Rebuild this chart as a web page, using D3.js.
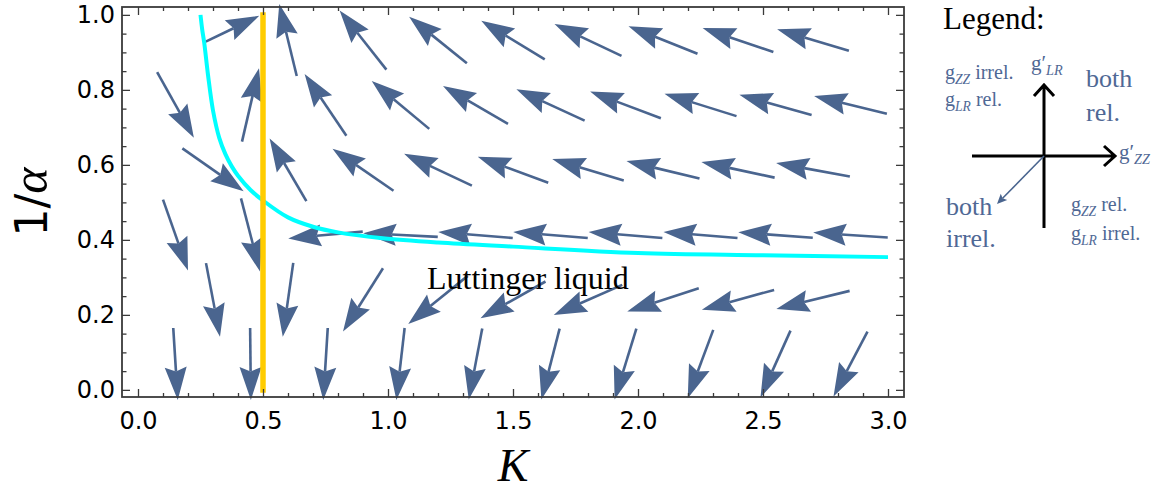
<!DOCTYPE html>
<html lang="en">

<head>
    <meta charset="UTF-8">
    <title>RG flow K - 1/alpha</title>
    <script src="https://d3js.org/d3.v7.min.js"></script>
    <style>
        body { margin: 0; background: #fff; }
        text { font-family: "Liberation Serif", serif; }
        .tick text { font-family: "DejaVu Sans", sans-serif; font-size: 24px; fill: #000; }
        .tick line { stroke: #3a3a3a; stroke-width: 1.3; }
    </style>
</head>

<body>
    <div id="chart"></div>

    <script>
        const width = 1157;
        const height = 490;

        // axis ticks
        const xTicks = [0, 0.5, 1, 1.5, 2, 2.5, 3];
        const xTickLabels = ["0.0", "0.5", "1.0", "1.5", "2.0", "2.5", "3.0"];
        const yTicks = [0, 0.2, 0.4, 0.6, 0.8, 1.0];
        const yTickLabels = ["0.0", "0.2", "0.4", "0.6", "0.8", "1.0"];

        // flow arrows: centre (K, 1/alpha) and vector (dK, dA)
        const arrowK = [
            0.378, 0.6, 0.9, 1.2, 1.5, 1.8, 2.1, 2.4, 2.7,
            0.15, 0.45, 0.75, 1.05, 1.35, 1.65, 1.95, 2.25, 2.55, 2.85,
            0.3, 0.6, 0.9, 1.2, 1.5, 1.8, 2.1, 2.4, 2.7,
            0.15, 0.45, 0.75, 1.05, 1.35, 1.65, 1.95, 2.25, 2.55, 2.85,
            0.3, 0.6, 0.9, 1.2, 1.5, 1.8, 2.1, 2.4, 2.7,
            0.15, 0.45, 0.75, 1.05, 1.35, 1.65, 1.95, 2.25, 2.55, 2.85
        ];
        const arrowA = [
            0.963, 0.933, 0.933, 0.933, 0.933, 0.933, 0.933, 0.933, 0.933,
            0.76, 0.76, 0.76, 0.76, 0.76, 0.76, 0.76, 0.76, 0.76, 0.76,
            0.587, 0.587, 0.587, 0.587, 0.587, 0.587, 0.587, 0.587, 0.587,
            0.413, 0.413, 0.413, 0.413, 0.413, 0.413, 0.413, 0.413, 0.413, 0.413,
            0.24, 0.24, 0.24, 0.24, 0.24, 0.24, 0.24, 0.24, 0.24,
            0.069, 0.069, 0.069, 0.069, 0.069, 0.069, 0.069, 0.069, 0.069, 0.069
        ];
        const arrowDK = [
            0.214, -0.070, -0.187, -0.231, -0.254, -0.268, -0.276, -0.283, -0.287,
            0.147, 0.068, -0.167, -0.230, -0.260, -0.273, -0.283, -0.288, -0.289, -0.291,
            0.245, -0.147, -0.244, -0.271, -0.282, -0.286, -0.292, -0.293, -0.295,
            0.100, 0.076, -0.298, -0.298, -0.298, -0.298, -0.295, -0.296, -0.298, -0.298,
            0.056, -0.042, -0.160, -0.238, -0.260, -0.274, -0.286, -0.289, -0.293,
            0.018, 0.003, -0.018, -0.033, -0.054, -0.073, -0.087, -0.102, -0.120, -0.136
        ];
        const arrowDA = [
            0.069, 0.192, 0.158, 0.124, 0.103, 0.085, 0.073, 0.064, 0.057,
            -0.175, 0.196, 0.165, 0.128, 0.101, 0.084, 0.071, 0.060, 0.054, 0.047,
            -0.114, 0.167, 0.112, 0.085, 0.069, 0.057, 0.047, 0.042, 0.036,
            -0.189, -0.195, -0.018, 0.010, 0.016, 0.016, 0.016, 0.016, 0.015, 0.013,
            -0.196, -0.197, -0.169, -0.128, -0.098, -0.080, -0.062, -0.053, -0.048,
            -0.192, -0.192, -0.192, -0.192, -0.189, -0.189, -0.189, -0.182, -0.178, -0.173
        ];

        // cyan separatrix
        const curveK = [0.25, 0.257, 0.265, 0.28, 0.30, 0.325, 0.35, 0.375, 0.40, 0.45,
            0.50, 0.60, 0.70, 0.80, 0.97, 1.20, 1.50, 2.00, 2.50, 3.00];
        const curveA = [1.00, 0.96, 0.925, 0.84, 0.745, 0.672, 0.628, 0.596, 0.571, 0.533,
            0.505, 0.460, 0.435, 0.420, 0.405, 0.393, 0.382, 0.365, 0.359, 0.354];

        // vertical line K = 1/2
        const fixedK = 0.5;
        const fixedA = [0, 1];

        const arrowColor = "#4a658f";

        const x = d3.scaleLinear().domain([-0.064, 3.064]).range([122, 904]);
        const y = d3.scaleLinear().domain([-0.019, 1.021]).range([397, 7]);

        const svg = d3.select("#chart")
            .append("svg")
            .attr("width", width)
            .attr("height", height)
            .style("display", "block");

        // Arrows
        const headLen = 33, headHalf = 11, notch = 28.5;
        const arrows = arrowK.map((k, i) => {
            const x0 = x(k - arrowDK[i] / 2), y0 = y(arrowA[i] - arrowDA[i] / 2);
            const x1 = x(k + arrowDK[i] / 2), y1 = y(arrowA[i] + arrowDA[i] / 2);
            const len = Math.hypot(x1 - x0, y1 - y0);
            const ux = (x1 - x0) / len, uy = (y1 - y0) / len;
            const nx = -uy, ny = ux;
            return {
                x0, y0,
                sx: x1 - ux * notch, sy: y1 - uy * notch,
                head: [
                    [x1, y1],
                    [x1 - ux * headLen + nx * headHalf, y1 - uy * headLen + ny * headHalf],
                    [x1 - ux * notch, y1 - uy * notch],
                    [x1 - ux * headLen - nx * headHalf, y1 - uy * headLen - ny * headHalf]
                ]
            };
        });

        const arrowG = svg.append("g");
        arrowG.selectAll("line")
            .data(arrows)
            .join("line")
            .attr("x1", d => d.x0).attr("y1", d => d.y0)
            .attr("x2", d => d.sx).attr("y2", d => d.sy)
            .attr("stroke", arrowColor)
            .attr("stroke-width", 2.6);
        arrowG.selectAll("path")
            .data(arrows)
            .join("path")
            .attr("d", d => "M" + d.head.join("L") + "Z")
            .attr("fill", arrowColor);

        // Cyan curve
        svg.append("path")
            .datum(curveK.map((k, i) => [k, curveA[i]]))
            .attr("fill", "none")
            .attr("stroke", "#00ffff")
            .attr("stroke-width", 4)
            .attr("d", d3.line().x(d => x(d[0])).y(d => y(d[1])).curve(d3.curveCatmullRom.alpha(0.5)));

        // K = 1/2 line
        svg.append("line")
            .attr("x1", x(fixedK)).attr("x2", x(fixedK))
            .attr("y1", y(fixedA[0])).attr("y2", y(fixedA[1]))
            .attr("stroke", "#ffcc00")
            .attr("stroke-width", 5.5)
            .attr("stroke-linecap", "square");

        svg.append("text")
            .attr("x", x(1.156))
            .attr("y", y(0.269))
            .attr("font-size", 32)
            .attr("fill", "#000")
            .text("Luttinger liquid");

        // Frame with inward ticks on all sides
        const [plotLeft, plotRight] = x.range();
        const [plotBottom, plotTop] = y.range();
        const xMinor = d3.range(0, 3.001, 0.1).filter(v => Math.abs(v * 2 - Math.round(v * 2)) > 1e-6);
        const yMinor = d3.range(0, 1.001, 0.05).filter(v => Math.abs(v * 5 - Math.round(v * 5)) > 1e-6);

        function addAxis(axis, tx, ty) {
            svg.append("g")
                .attr("transform", `translate(${tx},${ty})`)
                .call(axis)
                .call(g => g.select(".domain").remove());
        }

        addAxis(d3.axisBottom(x).tickValues(xTicks).tickSize(-8).tickPadding(15)
            .tickFormat((d, i) => xTickLabels[i]), 0, plotBottom);
        addAxis(d3.axisBottom(x).tickValues(xMinor).tickSize(-4).tickFormat(""), 0, plotBottom);
        addAxis(d3.axisTop(x).tickValues(xTicks).tickSize(-8).tickFormat(""), 0, plotTop);
        addAxis(d3.axisTop(x).tickValues(xMinor).tickSize(-4).tickFormat(""), 0, plotTop);
        addAxis(d3.axisLeft(y).tickValues(yTicks).tickSize(-8).tickPadding(7)
            .tickFormat((d, i) => yTickLabels[i]), plotLeft, 0);
        addAxis(d3.axisLeft(y).tickValues(yMinor).tickSize(-4.5).tickFormat(""), plotLeft, 0);
        addAxis(d3.axisRight(y).tickValues(yTicks).tickSize(-8).tickFormat(""), plotRight, 0);
        addAxis(d3.axisRight(y).tickValues(yMinor).tickSize(-4.5).tickFormat(""), plotRight, 0);

        svg.append("rect")
            .attr("x", plotLeft).attr("y", plotTop)
            .attr("width", plotRight - plotLeft).attr("height", plotBottom - plotTop)
            .attr("fill", "none")
            .attr("stroke", "#3a3a3a")
            .attr("stroke-width", 1.8);

        // Axis titles
        svg.append("text")
            .attr("x", (plotLeft + plotRight) / 2)
            .attr("y", 481)
            .attr("text-anchor", "middle")
            .attr("font-size", 46)
            .attr("font-style", "italic")
            .text("K");

        const yTitle = svg.append("text")
            .attr("transform", `translate(47,${(plotTop + plotBottom) / 2}) rotate(-90)`)
            .attr("text-anchor", "middle")
            .attr("font-size", 44);
        yTitle.append("tspan").style("font-family", "'DejaVu Sans', sans-serif").text("1/");
        yTitle.append("tspan").attr("font-style", "italic").attr("font-size", 50).text("α");

        // Legend
        const legendColor = "#4f6895";
        const lg = svg.append("g");
        lg.append("text").attr("x", 943).attr("y", 29).attr("font-size", 31).attr("fill", "#000").text("Legend:");

        const cx = 1044, cy = 156;
        lg.append("path")
            .attr("d", `M${cx - 72},${cy}H${cx + 71}M${cx + 60},${cy - 10}L${cx + 71},${cy}L${cx + 60},${cy + 10}`)
            .attr("fill", "none").attr("stroke", "#000").attr("stroke-width", 3);
        lg.append("path")
            .attr("d", `M${cx},${cy + 72}V${cy - 71}M${cx - 10},${cy - 60}L${cx},${cy - 71}L${cx + 10},${cy - 60}`)
            .attr("fill", "none").attr("stroke", "#000").attr("stroke-width", 3);

        // small blue arrow pointing to "both irrel."
        const ax1 = cx - 47, ay1 = cy + 48;
        const al = Math.hypot(ax1 - cx, ay1 - cy);
        const aux = (ax1 - cx) / al, auy = (ay1 - cy) / al;
        lg.append("line")
            .attr("x1", cx).attr("y1", cy)
            .attr("x2", ax1 - aux * 8).attr("y2", ay1 - auy * 8)
            .attr("stroke", arrowColor).attr("stroke-width", 1.6);
        lg.append("path")
            .attr("d", `M${ax1},${ay1}L${ax1 - aux * 10 - auy * 4.5},${ay1 - auy * 10 + aux * 4.5}L${ax1 - aux * 8},${ay1 - auy * 8}L${ax1 - aux * 10 + auy * 4.5},${ay1 - auy * 10 - aux * 4.5}Z`)
            .attr("fill", arrowColor);

        function gLabel(xp, yp, prime, sub, rest, size) {
            const t = lg.append("text").attr("x", xp).attr("y", yp)
                .attr("font-size", size).attr("fill", legendColor);
            t.append("tspan").text("g" + (prime ? "′" : ""));
            t.append("tspan").attr("font-style", "italic").attr("font-size", size * 0.68)
                .attr("dy", 5).text(sub);
            if (rest) t.append("tspan").attr("dy", -5).text(" " + rest);
        }

        gLabel(945, 79, false, "ZZ", "irrel.", 20);
        gLabel(945, 106, false, "LR", "rel.", 20);
        gLabel(1071, 211, false, "ZZ", "rel.", 20);
        gLabel(1071, 240, false, "LR", "irrel.", 20);
        gLabel(1031, 70, true, "LR", null, 21);
        gLabel(1119, 159, true, "ZZ", null, 21);

        lg.append("text").attr("x", 1086).attr("y", 87).attr("font-size", 26).attr("fill", legendColor).text("both");
        lg.append("text").attr("x", 1086).attr("y", 121).attr("font-size", 26).attr("fill", legendColor).text("rel.");
        lg.append("text").attr("x", 946).attr("y", 215).attr("font-size", 26).attr("fill", legendColor).text("both");
        lg.append("text").attr("x", 946).attr("y", 247).attr("font-size", 26).attr("fill", legendColor).text("irrel.");
    </script>
</body>

</html>
